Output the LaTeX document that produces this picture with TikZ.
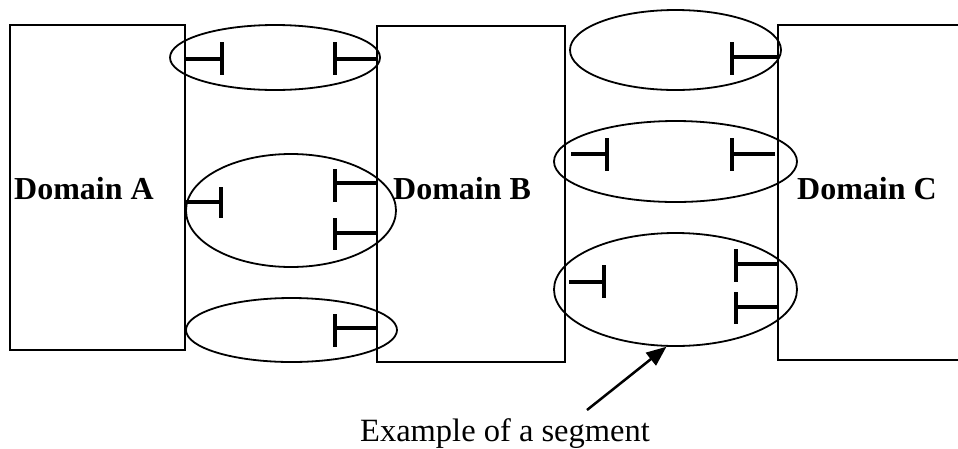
\documentclass[tikz,border=0pt]{standalone}
\usepackage{fontspec}
\setmainfont{Liberation Serif}
\usetikzlibrary{shapes.geometric,arrows.meta}
\begin{document}
\begin{tikzpicture}[x=1pt,y=-1pt,
  dombox/.style={draw,line width=1.8pt,inner sep=0pt,rectangle},
  seg/.style={draw,ellipse,line width=1.8pt,inner sep=0pt},
  tee/.style={line width=4.5pt},
  dlabel/.style={anchor=base west,inner sep=0pt,font=\fontsize{32}{37}\selectfont\bfseries},
  note/.style={anchor=base,inner sep=0pt,font=\fontsize{32.5}{38}\selectfont},
  pointer/.style={line width=2.5pt,-{Triangle[length=20pt,width=16pt]}}]
\clip (0,0) rectangle (958,448);
% domains
\node[dombox,minimum width=175pt,minimum height=325pt] (A) at (97.5,187.5) {};
\node[dombox,minimum width=188pt,minimum height=336pt] (B) at (471,194) {};
\node[dombox,minimum width=240pt,minimum height=335pt] (C) at (898,192.5) {};
\node[dlabel] (la) at (14,199) {Domain A};
\node[dlabel] (lb) at (393,199) {Domain B};
\node[dlabel] (lc) at (797,199) {Domain C};
% segments
\node[seg,minimum width=210pt,minimum height=65pt] (e1) at (275,57.5) {};
\node[seg,minimum width=210pt,minimum height=113pt] (e2) at (291,210.5) {};
\node[seg,minimum width=211pt,minimum height=64pt] (e3) at (291.5,330) {};
\node[seg,minimum width=211pt,minimum height=80pt] (e4) at (675.5,50) {};
\node[seg,minimum width=243pt,minimum height=81pt] (e5) at (675.5,161.5) {};
\node[seg,minimum width=243pt,minimum height=113pt] (e6) at (675.5,289.5) {};
% tees, ellipse 1
\draw[tee] (185,59) -- (222,59) (222,42) -- (222,75);
\draw[tee] (378,59) -- (335,59) (335,42) -- (335,75);
% ellipse 2
\draw[tee] (186,202) -- (221,202) (221,187) -- (221,218);
\draw[tee] (377,183) -- (335,183) (335,169) -- (335,202);
\draw[tee] (377,233) -- (335,233) (335,218) -- (335,250);
% ellipse 3
\draw[tee] (377,328) -- (335,328) (335,314) -- (335,347);
% ellipse 4
\draw[tee] (778,57) -- (732,57) (732,42) -- (732,75);
% ellipse 5
\draw[tee] (571,154) -- (607,154) (607,138) -- (607,171);
\draw[tee] (775,154) -- (732,154) (732,138) -- (732,171);
% ellipse 6
\draw[tee] (569,282) -- (604,282) (604,265) -- (604,298);
\draw[tee] (778,264) -- (736,264) (736,249) -- (736,282);
\draw[tee] (778,307) -- (736,307) (736,292) -- (736,324);
% annotation
\node[note] (ex) at (505,441) {Example of a segment};
\coordinate (ps) at (587,410);
\draw[pointer] (ps) -- (e6.261);
\end{tikzpicture}
\end{document}
